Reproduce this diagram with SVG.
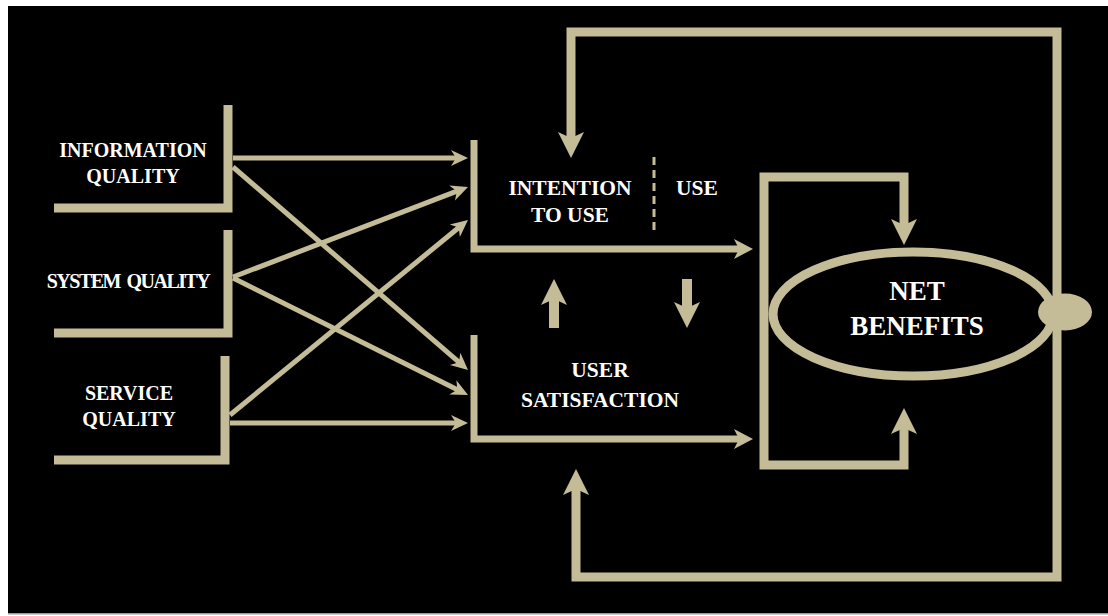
<svg xmlns="http://www.w3.org/2000/svg" width="1108" height="616" viewBox="0 0 1108 616">
  <style>
    .lbl { font-family: "Liberation Serif", "Times New Roman", serif; font-weight: bold; fill: #ffffff; text-anchor: middle; }
    .sm { font-size: 20px; }
    .md { font-size: 21.5px; }
    .lg { font-size: 27px; }
    .line { fill: none; stroke: #C4BC96; stroke-linejoin: miter; stroke-linecap: butt; }
    .w9 { stroke-width: 9; }
    .w7 { stroke-width: 7; }
    .w5 { stroke-width: 5; }
    .w10 { stroke-width: 10; }
  </style>
  <defs>
    <marker id="headL" markerUnits="userSpaceOnUse" viewBox="-30 -15 32 30" markerWidth="32" markerHeight="30" refX="-16" refY="0" orient="auto">
      <path d="M0,0 L-26,-13 L-20,0 L-26,13 Z" fill="#C4BC96"/>
    </marker>
    <marker id="headM" markerUnits="userSpaceOnUse" viewBox="-22 -12 24 24" markerWidth="24" markerHeight="24" refX="-10" refY="0" orient="auto">
      <path d="M0,0 L-19,-10 L-14,0 L-19,10 Z" fill="#C4BC96"/>
    </marker>
    <marker id="headS" markerUnits="userSpaceOnUse" viewBox="-20 -10 22 20" markerWidth="22" markerHeight="20" refX="-9" refY="0" orient="auto">
      <path d="M0,0 L-17,-8 L-12,0 L-17,8 Z" fill="#C4BC96"/>
    </marker>
  </defs>

  <!-- page -->
  <rect x="0" y="0" width="1108" height="616" fill="#ffffff"/>
  <rect x="8" y="6" width="1100" height="607" fill="#000000"/>
  <rect x="8" y="613" width="1100" height="1.5" fill="#9a9a9a"/>

  <!-- input nodes -->
  <g id="information-quality">
    <path class="line w9" d="M228,105 V208 H54"/>
    <text class="lbl sm" x="133" y="157">INFORMATION</text>
    <text class="lbl sm" x="133" y="183">QUALITY</text>
  </g>
  <g id="system-quality">
    <path class="line w9" d="M228,230 V333 H54"/>
    <text class="lbl sm" x="128" y="288" letter-spacing="-1.5" word-spacing="3">SYSTEM QUALITY</text>
  </g>
  <g id="service-quality">
    <path class="line w9" d="M225,356 V460 H54"/>
    <text class="lbl sm" x="129" y="400">SERVICE</text>
    <text class="lbl sm" x="129" y="426">QUALITY</text>
  </g>

  <!-- use / satisfaction nodes -->
  <g id="intention-to-use">
    <path class="line w7" d="M474,140 V249 H743" marker-end="url(#headM)"/>
    <text class="lbl md" x="570" y="195">INTENTION</text>
    <text class="lbl md" x="570" y="222">TO USE</text>
    <line x1="654" y1="157" x2="654" y2="233" stroke="#C4BC96" stroke-width="3" stroke-dasharray="8 5"/>
    <text class="lbl md" x="697" y="195">USE</text>
  </g>
  <g id="user-satisfaction">
    <path class="line w7" d="M474,335 V439 H743" marker-end="url(#headM)"/>
    <text class="lbl md" x="600" y="377">USER</text>
    <text class="lbl md" x="600" y="407">SATISFACTION</text>
  </g>

  <!-- outcome node -->
  <g id="net-benefits">
    <ellipse cx="913" cy="314" rx="140" ry="62" fill="none" stroke="#C4BC96" stroke-width="9"/>
    <ellipse cx="1065" cy="312" rx="27" ry="18.5" fill="#C4BC96"/>
    <text class="lbl lg" x="917" y="300">NET</text>
    <text class="lbl lg" x="917" y="335">BENEFITS</text>
  </g>

  <!-- connectors -->
  <g id="connectors">
    <!-- quality dimensions to use and satisfaction -->
    <line class="line w5" x1="233" y1="158" x2="459" y2="158" marker-end="url(#headS)"/>
    <line class="line w5" x1="233" y1="167" x2="461.2" y2="364.1" marker-end="url(#headS)"/>
    <line class="line w5" x1="233" y1="277" x2="459.6" y2="190.2" marker-end="url(#headS)"/>
    <line class="line w5" x1="233" y1="278" x2="460" y2="391" marker-end="url(#headS)"/>
    <line class="line w5" x1="230" y1="415" x2="461" y2="225.7" marker-end="url(#headS)"/>
    <line class="line w5" x1="230" y1="423" x2="459" y2="423" marker-end="url(#headS)"/>

    <!-- use and satisfaction influence each other -->
    <path class="line w10" d="M554,328 V295" marker-end="url(#headL)"/>
    <path class="line w10" d="M687,279 V312" marker-end="url(#headL)"/>

    <!-- into net benefits -->
    <path class="line w9" d="M764,320 V177 H904 V229" marker-end="url(#headL)"/>
    <path class="line w9" d="M764,320 V465 H904 V424" marker-end="url(#headL)"/>

    <!-- feedback loops from net benefits -->
    <path class="line w9" d="M1057,312 V32 H571 V142" marker-end="url(#headL)"/>
    <path class="line w9" d="M1057,312 V577 H576 V485" marker-end="url(#headL)"/>
  </g>
</svg>
